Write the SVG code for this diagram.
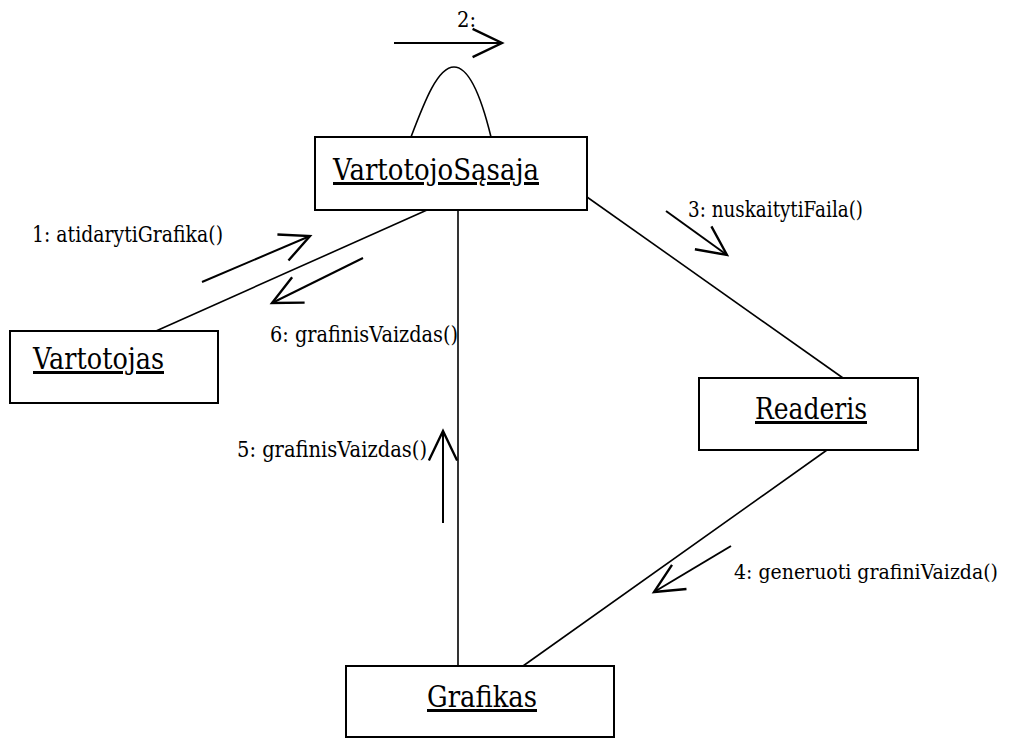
<svg xmlns="http://www.w3.org/2000/svg" width="1013" height="738" viewBox="0 0 1013 738">
  <style>
    .box { fill: #fff; stroke: #000; stroke-width: 2; }
    .name { font-family: 'DejaVu Serif', 'Liberation Serif', serif; font-size: 30px; fill: #000; text-decoration: underline; }
    .lbl { font-family: 'DejaVu Serif', 'Liberation Serif', serif; font-size: 22px; fill: #000; }
    .assoc { fill: none; stroke: #000; stroke-width: 1.6; }
    .msg { fill: none; stroke: #000; stroke-width: 2; marker-end: url(#head); }
  </style>
  <defs>
    <marker id="head" markerUnits="userSpaceOnUse" markerWidth="40" markerHeight="40" viewBox="-30 -16 34 32" refX="0" refY="0" orient="auto">
      <path d="M-25,-12 L0,0 L-25,12" fill="none" stroke="#000" stroke-width="2"/>
    </marker>
  </defs>
  <rect width="1013" height="738" fill="#fff"/>

  <g id="connectors">
    <path class="assoc" d="M411,137 C425,100 438,67 454,67 C470,67 482,100 491,137"/>
    <line class="assoc" x1="156" y1="331" x2="427" y2="210"/>
    <line class="assoc" x1="570" y1="185" x2="843" y2="378"/>
    <line class="assoc" x1="458" y1="210" x2="458" y2="666"/>
    <line class="assoc" x1="827" y1="450" x2="523" y2="666"/>

    <line class="msg" x1="394" y1="43" x2="502" y2="43"/>
    <line class="msg" x1="202" y1="282" x2="310" y2="236"/>
    <line class="msg" x1="363" y1="258" x2="272" y2="303"/>
    <line class="msg" x1="666" y1="211" x2="727" y2="255"/>
    <line class="msg" x1="731" y1="546" x2="654" y2="592"/>
    <line class="msg" x1="443" y1="523" x2="443" y2="431"/>

    <text class="lbl" x="457" y="27" textLength="19" lengthAdjust="spacingAndGlyphs">2:</text>
    <text class="lbl" x="32" y="242" textLength="191" lengthAdjust="spacingAndGlyphs">1: atidarytiGrafika()</text>
    <text class="lbl" x="270" y="342" textLength="188" lengthAdjust="spacingAndGlyphs">6: grafinisVaizdas()</text>
    <text class="lbl" x="688" y="217" textLength="175" lengthAdjust="spacingAndGlyphs">3: nuskaitytiFaila()</text>
    <text class="lbl" x="734" y="579" font-size="19.5" textLength="264" lengthAdjust="spacingAndGlyphs" style="font-size:19.5px">4: generuoti grafiniVaizda()</text>
    <text class="lbl" x="237" y="457" textLength="190" lengthAdjust="spacingAndGlyphs">5: grafinisVaizdas()</text>
  </g>

  <g id="node-vartotojosasaja">
    <rect class="box" x="315" y="137" width="272" height="73"/>
    <text class="name" x="333" y="180" textLength="206" lengthAdjust="spacingAndGlyphs">VartotojoSąsaja</text>
  </g>
  <g id="node-vartotojas">
    <rect class="box" x="10" y="331" width="208" height="72"/>
    <text class="name" x="33" y="369" textLength="131" lengthAdjust="spacingAndGlyphs">Vartotojas</text>
  </g>
  <g id="node-readeris">
    <rect class="box" x="699" y="378" width="219" height="72"/>
    <text class="name" x="755" y="419" textLength="112" lengthAdjust="spacingAndGlyphs">Readeris</text>
  </g>
  <g id="node-grafikas">
    <rect class="box" x="346" y="666" width="268" height="71"/>
    <text class="name" x="427" y="707" textLength="110" lengthAdjust="spacingAndGlyphs">Grafikas</text>
  </g>
</svg>
